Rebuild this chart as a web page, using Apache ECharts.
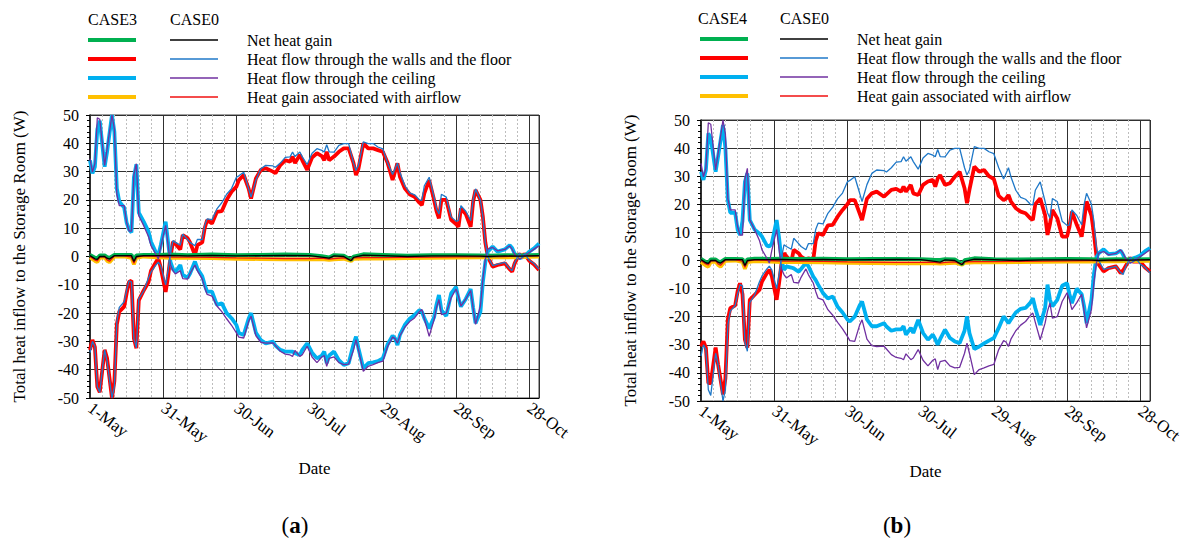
<!DOCTYPE html>
<html>
<head>
<meta charset="utf-8">
<script src="https://cdn.jsdelivr.net/npm/echarts@6/dist/echarts.min.js"></script>
<style>
  html, body { margin: 0; padding: 0; background: #fff; }
  #chart { width: 1187px; height: 548px; }
</style>
</head>
<body>
<div id="chart"></div>
<script>
// days counted from 1-May (day 0)
const days = [
  0, 1, 2, 3, 4, 6, 7, 9, 10, 11,
  12, 14, 15, 16, 17, 18, 19, 20, 22, 24,
  25, 27, 28, 29, 31, 32, 33, 34, 35, 37,
  38, 40, 41, 43, 44, 46, 47, 48, 50, 52,
  54, 56, 58, 60, 61, 63, 65, 66, 68, 70,
  72, 75, 76, 78, 80, 82, 83, 84, 86, 87,
  89, 91, 93, 95, 96, 97, 98, 100, 102, 104,
  106, 108, 109, 110, 112, 114, 116, 118, 120, 122,
  124, 125, 126, 127, 129, 131, 133, 135, 136, 137,
  139, 141, 142, 143, 144, 146, 148, 150, 151, 152,
  154, 156, 157, 158, 160, 161, 162, 163, 165, 167,
  170, 172, 173, 174, 176, 177, 178, 180, 182, 184
];
// days for the near-zero series
const daysSmall = [0, 2, 3, 4, 6, 7, 8, 10, 14, 17, 18, 19, 22, 28, 33, 40, 50, 60, 70, 80,
  90, 95, 98, 100, 104, 107, 108, 112, 120, 130, 140, 150, 160, 163, 170, 176, 184];

const xTickLabels = ['1-May', '31-May', '30-Jun', '30-Jul', '29-Aug', '28-Sep', '28-Oct'];

// CASE0 (base case, same in both panels)
const wallsCase0 = [
  -34, -30, -31.7, -46, -48, -33, -37, -50, -46, -23,
  -18, -16, -12, -8.6, -9, -29, -32.3, -15, -12.2, -7.5,
  -5.5, -3, -2, -3.3, -10, -5, 1, 5.6, 5, 4,
  7.9, 6, 5, 3.8, 6, 6, 11, 13.3, 13, 16.8,
  19, 22, 24, 28, 28.5, 29.8, 24, 21, 27, 31,
  32.2, 32, 31.5, 33, 35, 35.2, 36.9, 35.3, 36.9, 35.2,
  32.5, 36.5, 38.1, 37.5, 36.9, 39.5, 37, 36.9, 39.3, 39.9,
  39.9, 33, 30.4, 32.2, 40.5, 39.9, 39.9, 38.7, 38, 33,
  29, 31, 33, 29.8, 25, 22.5, 21.8, 20, 19.8, 25,
  28, 21, 17, 15, 22, 21, 14, 12.5, 12.7, 18,
  16, 12.7, 20, 23.9, 20, 14, 5, 0, -3.2, -2.7,
  -2.1, -4.3, -5, -2.3, 1.2, -0.4, 1, -1.3, -2.5, -4.5
];
const ceilingCase0 = [
  34.6, 29.8, 32.8, 49, 48.5, 32.2, 38, 50, 45, 22,
  18, 18, 12, 9, 9, 29, 32.8, 14.4, 10.9, 7,
  3.8, 0.8, -0.9, 3.5, 11, 4, -3, -5, -6.2, -5,
  -7.8, -8, -6, -3, -5, -8, -11, -13.4, -14, -17.5,
  -19.5, -22, -24.3, -27, -28.5, -28.8, -23, -21.1, -28, -30.3,
  -30.6, -30.5, -31.5, -33.5, -34.5, -34.8, -35.3, -33.2, -35.3, -34.7,
  -31.7, -35.5, -37.5, -35.5, -35, -38.8, -36, -35.5, -37.5, -38.2,
  -38, -33, -29.4, -33, -40.6, -38.8, -38.2, -37.5, -37, -31.7,
  -28.5, -29, -30.6, -28, -25, -23, -21.7, -19.5, -18.7, -22,
  -28.2, -22.3, -18, -15.2, -20.5, -20, -14.6, -11.5, -14, -17.5,
  -15, -12, -18.1, -24, -17.5, -8, -1, 2.6, 3.2, 2,
  2.5, 3.8, 2.5, 0.8, -0.9, -0.5, 0.2, 1.4, 2.6, 3.8
];
const netCase0 = [0.3, -0.8, -1, 0, 0, -0.6, -0.9, 0.3, 0.3, 0.3, -1.8, 0, 0.3, 0.3, 0.4, 0.2, 0.4, 0.2, 0.3, 0.4,
  0.3, -0.2, -0.6, 0.2, 0, -1.5, -0.3, 0.5, 0.3, 0, 0.2, 0.2, 0.1, 0, 0.2, 0.1, 0.3];
const airCase0 = [0, -1.2, -1.6, -0.2, 0, -1.2, -1.7, 0.2, 0.2, -0.2, -2.4, -0.2, 0.2, 0, -0.2, -0.2, -0.3, -0.5, -0.6, -0.7,
  -0.7, -0.6, -0.9, -0.7, -0.5, -1.3, -0.5, -0.4, -0.4, -0.3, -0.2, -0.1, 0, 0, 0, 0.1, 0.2];

// CASE3 (panel a)
const wallsCase3 = [
  -33, -29.5, -32, -46, -48, -33, -36, -50, -44, -24,
  -19.5, -17.7, -13, -9, -8.5, -29, -32.4, -15.5, -12, -9,
  -5, -2, -0.6, -4, -12.5, -7, 0, 5.2, 4.5, 2.5,
  7.6, 6.5, 5, 0.5, 4, 5, 10, 12.9, 11.7, 15.8,
  16, 20, 22.9, 24.7, 27, 28.8, 24, 20.5, 27.6, 30.6,
  31.2, 30, 29.4, 32.3, 34, 33.5, 35.3, 33, 35.9, 34,
  30.6, 35, 36.5, 35.5, 34, 37, 34, 35.3, 37, 38.2,
  38.2, 33, 28.8, 31, 40, 38.2, 38.2, 37.6, 37, 33,
  27, 30, 32.9, 28.2, 24.1, 22, 21.1, 19, 18.2, 22.3,
  27, 20, 16, 13.5, 20, 20, 13, 11.5, 10.5, 17,
  15, 10.5, 19.4, 23.5, 20, 14, 5, 0, -3.6, -3,
  -2.4, -4.5, -5.4, -2.5, 1, -0.6, 1, -1.5, -2.8, -4.8
];
const ceilingCase3 = [
  34, 29.4, 31.7, 45, 48, 31.7, 37, 50, 44, 24,
  19.4, 17.3, 12, 9.5, 8.5, 28, 32.6, 15.5, 12.3, 8.8,
  5.2, 1.5, 0.5, 4, 12.3, 5, -2, -4.5, -5.4, -3,
  -6.5, -7.5, -6, -1.8, -4.2, -7, -10, -12.4, -12.4, -17.1,
  -16.5, -20, -21.8, -24.2, -27, -27.7, -22, -20, -27, -29.5,
  -30.7, -30.1, -31.5, -33, -33.6, -33.6, -33.6, -34.2, -34.8, -33,
  -30.7, -34, -36, -35, -33.6, -37.7, -35, -33.6, -36.6, -38.3,
  -37.7, -31, -28.3, -32.4, -39.5, -37.7, -37.4, -37, -36, -31,
  -28, -28.9, -31.3, -27.7, -24.2, -22, -20.7, -18.9, -19.5, -21.8,
  -25.4, -21.5, -17, -13.6, -19, -21, -13, -10.7, -14.8, -17.7,
  -15, -11.5, -18, -23.6, -19.5, -9, -2, 1.7, 3.5, 1.7,
  2.5, 4, 3, 1, -0.6, -0.3, 0, 1.7, 2.9, 4.6
];
const netCase3 = [0.6, -0.4, -0.6, 0.4, 0.4, -0.2, -0.5, 0.6, 0.6, 0.6, -1.3, 0.4, 0.6, 0.6, 0.7, 0.5, 0.7, 0.5, 0.6, 0.7,
  0.6, 0.1, -0.3, 0.5, 0.3, -1.2, 0, 0.8, 0.6, 0.3, 0.5, 0.5, 0.4, 0.3, 0.5, 0.4, 0.6];
const airCase3 = [-0.3, -1.5, -2, -0.5, -0.3, -1.5, -2, 0, 0, -0.5, -2.8, -0.5, 0, -0.3, -0.5, -0.5, -0.6, -0.8, -0.9, -1,
  -1, -0.9, -1.2, -1, -0.8, -1.6, -0.8, -0.7, -0.7, -0.6, -0.5, -0.4, -0.3, -0.3, -0.3, -0.2, 0];

// CASE4 (panel b)
const wallsCase4 = [
  -30.6, -28.8, -31, -43.6, -43.6, -31, -37, -47.7, -42, -21,
  -17, -16, -11, -8.1, -12, -28.2, -31, -14, -12.2, -10.4,
  -7.5, -4.5, -3.3, -5.5, -14, -8, -1, 2.6, 1.5, -0.5,
  3.8, 2.6, 1.4, 0.2, 0.8, 0.2, 7, 9.7, 9.1, 12.5,
  12.7, 15.6, 18, 20, 21.5, 21.5, 16.8, 14.4, 22, 23.9,
  24.5, 22.7, 23.5, 25.1, 25.5, 24.5, 26.3, 24.5, 26.9, 23.9,
  23.3, 26.9, 28.1, 28.7, 26.3, 29.2, 30.4, 26.9, 27.5, 29.8,
  31.6, 25.7, 20.4, 25.1, 33.4, 31.6, 32.2, 30, 29, 23,
  21.5, 22, 23.3, 21, 18.6, 17.4, 16.8, 15, 14.4, 20,
  22.1, 16.2, 9.1, 13, 18, 15, 8.5, 8.5, 12, 17.4,
  12.7, 8.5, 14.4, 21, 16, 9.7, 2, -1.5, -3.9, -2.7,
  -2.1, -4.5, -3.5, -2, 1, -0.4, -0.4, -0.4, -2.5, -3.9
];
const ceilingCase4 = [
  31.6, 28.7, 32.2, 45.2, 43.5, 31.6, 37, 48.2, 40, 21.5,
  17, 17, 11, 9.1, 14, 28, 31, 14.4, 11, 9.5,
  8.5, 5.3, 5, 6, 14.4, 8, 0, -3.3, -2.1, -2.5,
  -2.8, -4, -3, -0.9, -2, -5.7, -7, -8.6, -11.6, -13.5,
  -12.8, -16.5, -18.5, -21, -21.7, -20, -16, -14.6, -21, -23.4,
  -23.4, -22.3, -23.5, -25, -24.5, -24.5, -23.4, -26.4, -24, -25.8,
  -21.1, -25.8, -28.2, -26.4, -28, -30, -28, -24.6, -27.6, -28.8,
  -29.4, -25, -19.9, -25.8, -31.5, -30.6, -29.5, -28.5, -27.6, -24,
  -19.9, -21, -22.3, -21, -18.5, -17.2, -16.9, -15, -13.4, -17,
  -22.9, -17, -8.6, -14, -16.3, -14, -9, -8.1, -12, -15.2,
  -10, -12, -16.3, -22.3, -14, -5, 1, 2.6, 4, 2.3,
  2.5, 3.5, 2, 0, -0.5, 0.8, 1, 1.8, 3.3, 4.4
];
const netCase4 = [0.6, -0.6, -0.8, 0.4, 0.4, -0.3, -0.6, 0.6, 0.6, 0.5, -1.5, 0.4, 0.7, 0.6, 0.7, 0.6, 0.7, 0.5, 0.6, 0.6,
  0.5, 0.3, 0.2, 0.5, 0.4, -1.3, 0.1, 0.8, 0.5, 0.4, 0.5, 0.6, 0.5, 0.3, 0.5, 0.4, 0.5];
const airCase4 = [-0.5, -1.8, -2.2, -0.6, -0.4, -1.6, -2.2, -0.1, 0, -0.5, -3, -0.6, -0.2, -0.4, -0.6, -0.6, -0.7, -0.8, -0.9, -1,
  -1, -0.9, -1.1, -1, -0.8, -1.5, -0.8, -0.7, -0.7, -0.6, -0.5, -0.4, -0.4, -0.3, -0.3, -0.2, -0.1];

const labels = ['Net heat gain', 'Heat flow through the walls and the floor', 'Heat flow through the ceiling', 'Heat gain associated with airflow'];

const FONT = 'Liberation Serif';
const C = {
  green: '#00B050', red: '#FF0000', sky: '#00B0F0', orange: '#FFC000',
  black: '#000000', blue: '#1F78C8', purple: '#7030A0', redThin: '#F01010'
};

function pts(xs, ys) {
  return xs.map((d, i) => [d, ys[i]]);
}

function line(name, xs, ys, color, width, axis) {
  return {
    name: name,
    type: 'line',
    xAxisIndex: axis * 2,
    yAxisIndex: axis,
    data: pts(xs, ys),
    showSymbol: false,
    symbol: 'none',
    color: color,
    lineStyle: { color: color, width: width },
    emphasis: { disabled: true }
  };
}

function panelSeries(p, tag, walls, ceil, net, air) {
  const thick = 3.8, thin = 1.3;
  const ax = p === 'a' ? 0 : 1;
  return [
    line(p + tag + '|' + labels[1], days, walls, C.red, thick, ax),
    line(p + tag + '|' + labels[2], days, ceil, C.sky, thick, ax),
    line(p + tag + '|' + labels[3], daysSmall, air, C.orange, thick, ax),
    line(p + tag + '|' + labels[0], daysSmall, net, C.green, thick, ax),
    line(p + 'CASE0|' + labels[3], daysSmall, airCase0, C.redThin, thin, ax),
    line(p + 'CASE0|' + labels[2], days, ceilingCase0, C.purple, thin, ax),
    line(p + 'CASE0|' + labels[1], days, wallsCase0, C.blue, thin, ax),
    line(p + 'CASE0|' + labels[0], daysSmall, netCase0, C.black, thin, ax)
  ];
}

const txt = (size, extra) => Object.assign({ fontFamily: FONT, fontSize: size, color: '#000' }, extra || {});

function xMain(gi) {
  return {
    type: 'value', gridIndex: gi, min: 0, max: 184, interval: 30, z: 2,
    name: 'Date', nameLocation: 'middle', nameGap: 62,
    nameTextStyle: txt(17),
    axisLine: { onZero: false, lineStyle: { color: '#000', width: 1 } },
    axisTick: { show: false },
    axisLabel: Object.assign(txt(17), {
      rotate: -37, margin: 8, showMaxLabel: false,
      formatter: v => (v % 30 === 0 ? xTickLabels[v / 30] : '')
    }),
    splitLine: { show: true, lineStyle: { color: '#303030', width: 1 } }
  };
}
function xMinor(gi) {
  return {
    type: 'value', gridIndex: gi, min: 0, max: 184, interval: 5, z: 1,
    axisLine: { show: false }, axisTick: { show: false }, axisLabel: { show: false },
    splitLine: { show: true, lineStyle: { color: '#BDBDBD', width: 1, type: [2, 2] } }
  };
}
function yAxis(gi) {
  return {
    type: 'value', gridIndex: gi, min: -50, max: 50, interval: 10,
    name: 'Total heat inflow to the Storage Room (W)', nameLocation: 'middle', nameGap: 62,
    nameTextStyle: txt(17),
    axisLine: { show: true, lineStyle: { color: '#000', width: 1.5 } },
    axisTick: { show: true, length: 4, lineStyle: { color: '#000' } },
    minorTick: { show: true, splitNumber: 5, length: 3, lineStyle: { color: '#000' } },
    axisLabel: Object.assign(txt(16), { margin: 11 }),
    splitLine: { show: true, lineStyle: { color: '#303030', width: 1 } }
  };
}

function legends(p, tag, thickLeft, thinLeft, rowTop) {
  const order = [0, 1, 2, 3];
  return [
    {
      data: order.map(i => p + tag + '|' + labels[i]),
      orient: 'vertical', left: thickLeft, top: rowTop - 2, padding: 0,
      icon: 'rect', itemWidth: 48, itemHeight: 4, itemGap: 15,
      formatter: () => '', selectedMode: false,
      textStyle: { fontSize: 1, lineHeight: 1 }
    },
    {
      data: order.map(i => p + 'CASE0|' + labels[i]),
      orient: 'vertical', left: thinLeft, top: rowTop - 9.5, padding: 0,
      icon: 'rect', itemWidth: 48, itemHeight: 1.4, itemGap: 0,
      formatter: n => n.split('|')[1], selectedMode: false,
      textStyle: txt(16, { lineHeight: 19, padding: [0, 0, 0, 24] })
    }
  ];
}

const chart = echarts.init(document.getElementById('chart'), null, { renderer: 'svg' });
chart.setOption({
  animation: false,
  backgroundColor: '#fff',
  textStyle: { fontFamily: FONT },
  title: [
    { text: 'CASE3', left: 88, top: 11, padding: 0, textStyle: txt(16, { fontWeight: 'normal' }) },
    { text: 'CASE0', left: 170, top: 11, padding: 0, textStyle: txt(16, { fontWeight: 'normal' }) },
    { text: 'CASE4', left: 698, top: 10, padding: 0, textStyle: txt(16, { fontWeight: 'normal' }) },
    { text: 'CASE0', left: 780, top: 10, padding: 0, textStyle: txt(16, { fontWeight: 'normal' }) }
  ],
  legend: [].concat(legends('a', 'CASE3', 88, 170, 40), legends('b', 'CASE4', 700, 780, 39)),
  grid: [
    { left: 90, top: 115, width: 449, height: 283, show: true, borderColor: '#404040', borderWidth: 1, containLabel: false },
    { left: 701, top: 120, width: 449, height: 281, show: true, borderColor: '#404040', borderWidth: 1, containLabel: false }
  ],
  xAxis: [xMain(0), xMinor(0), xMain(1), xMinor(1)],
  yAxis: [yAxis(0), yAxis(1)],
  graphic: [
    { type: 'text', x: 295, y: 514, style: { text: '{n|(}{b|a}{n|)}', textAlign: 'center', rich: {
      n: { fontFamily: FONT, fontSize: 23, fill: '#000' }, b: { fontFamily: FONT, fontSize: 23, fontWeight: 'bold', fill: '#000' } } } },
    { type: 'text', x: 897, y: 514, style: { text: '{n|(}{b|b}{n|)}', textAlign: 'center', rich: {
      n: { fontFamily: FONT, fontSize: 23, fill: '#000' }, b: { fontFamily: FONT, fontSize: 23, fontWeight: 'bold', fill: '#000' } } } }
  ],
  series: [].concat(
    panelSeries('a', 'CASE3', wallsCase3, ceilingCase3, netCase3, airCase3),
    panelSeries('b', 'CASE4', wallsCase4, ceilingCase4, netCase4, airCase4)
  )
});
</script>
</body>
</html>
